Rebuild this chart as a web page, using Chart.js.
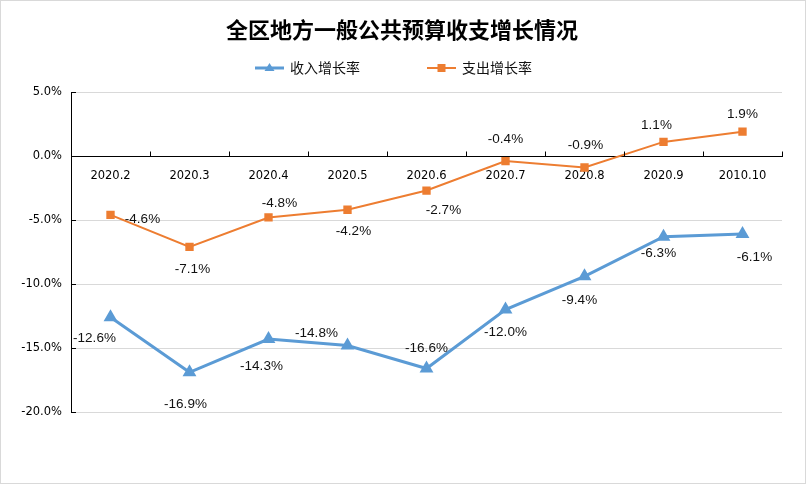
<!DOCTYPE html>
<html>
<head>
<meta charset="utf-8">
<script src="https://cdn.jsdelivr.net/npm/chart.js@4.4.1/dist/chart.umd.min.js"></script>
<style>
  html,body{margin:0;padding:0;background:#fff;}
  #wrap{width:804px;height:482px;border:1px solid #d9d9d9;position:relative;}
  canvas{display:block;}
</style>
</head>
<body>
<div id="wrap"><canvas id="chart" width="804" height="482"></canvas></div>
<script>
/* ---------- data ---------- */
const chartTitle = '全区地方一般公共预算收支增长情况';
const months = ['2020.2','2020.3','2020.4','2020.5','2020.6','2020.7','2020.8','2020.9','2010.10'];
const incomeGrowth  = [-12.6,-16.9,-14.3,-14.8,-16.6,-12.0,-9.4,-6.3,-6.1];
const expenseGrowth = [-4.6,-7.1,-4.8,-4.2,-2.7,-0.4,-0.9,1.1,1.9];
const yTicks = [5,0,-5,-10,-15,-20];

// where each value label sits relative to its point (px)
const incomeLabelPos  = [[-16,21],[-4,32],[-7,27],[-31,-12],[0,-20],[0,23],[-5,24],[-5,17],[12,23]];
const expenseLabelPos = [[32,4],[3,22],[11,-14],[6,22],[17,20],[0,-22],[1,-22],[-7,-17],[0,-17]];

const BLUE = '#5b9bd5', ORANGE = '#ed7d31';
const CJK = '"Noto Sans CJK SC", sans-serif';

/* ---------- plugins ---------- */
// title + legend, drawn by hand so they sit where the original has them
const header = {
  id:'header',
  afterDraw(chart){
    const ctx = chart.ctx;
    ctx.save();
    ctx.fillStyle = '#000';
    ctx.textAlign = 'center'; ctx.textBaseline = 'middle';
    ctx.font = 'bold 22px ' + CJK;
    ctx.fillText(chartTitle, 401, 29);

    const items = [
      {x:254,text:'收入增长率',color:BLUE,lw:3,shape:'triangle'},
      {x:426,text:'支出增长率',color:ORANGE,lw:2,shape:'rect'}
    ];
    const ly = 67;
    ctx.font = '14px ' + CJK;
    ctx.textAlign = 'left';
    items.forEach(it=>{
      ctx.strokeStyle = it.color; ctx.lineWidth = it.lw;
      ctx.beginPath(); ctx.moveTo(it.x, ly); ctx.lineTo(it.x+29, ly); ctx.stroke();
      ctx.fillStyle = it.color;
      const cx = it.x+14.5;
      if(it.shape==='triangle'){
        ctx.beginPath(); ctx.moveTo(cx,ly-5); ctx.lineTo(cx+5,ly+3); ctx.lineTo(cx-5,ly+3); ctx.closePath(); ctx.fill();
      }else{
        ctx.fillRect(cx-4, ly-4, 8, 8);
      }
      ctx.fillStyle = '#111';
      ctx.fillText(it.text, it.x+35, ly);
    });
    ctx.restore();
  }
};

const axisMarks = {
  id:'axisMarks',
  afterDatasetsDraw(chart){
    const {ctx, chartArea, scales:{x,y}} = chart;
    ctx.save();
    ctx.strokeStyle = '#000'; ctx.lineWidth = 1;
    ctx.beginPath();
    // y ticks pointing into the plot
    yTicks.forEach(v=>{
      const py = Math.round(y.getPixelForValue(v))+0.5;
      ctx.moveTo(chartArea.left, py); ctx.lineTo(chartArea.left+5, py);
    });
    // x ticks between categories, pointing up from the zero line
    const y0 = Math.round(y.getPixelForValue(0))+0.5;
    for(let i=1;i<=months.length;i++){
      const px = Math.round(x.getPixelForValue(i-0.5))+0.5;
      ctx.moveTo(px, y0); ctx.lineTo(px, y0-5);
    }
    ctx.stroke();
    ctx.restore();
  }
};

const valueLabels = {
  id:'valueLabels',
  afterDatasetsDraw(chart){
    const {ctx} = chart;
    ctx.save();
    ctx.font = '13.5px "Liberation Sans", Arial, sans-serif';
    ctx.fillStyle = '#111';
    ctx.textAlign = 'center';
    ctx.textBaseline = 'middle';
    chart.data.datasets.forEach((ds,di)=>{
      const meta = chart.getDatasetMeta(di);
      const pos = ds.labelPos;
      meta.data.forEach((pt,i)=>{
        ctx.fillText(ds.data[i].toFixed(1)+'%', pt.x+pos[i][0], pt.y+pos[i][1]);
      });
    });
    ctx.restore();
  }
};

/* ---------- chart ---------- */
const tickFont = {family:'"DejaVu Sans", sans-serif', size:11.5};

new Chart(document.getElementById('chart'),{
  type:'line',
  data:{
    labels: months,
    datasets:[
      {label:'收入增长率',data:incomeGrowth,borderColor:BLUE,backgroundColor:BLUE,borderWidth:3,
       pointStyle:'triangle',pointRadius:5,pointHoverRadius:5,labelPos:incomeLabelPos},
      {label:'支出增长率',data:expenseGrowth,borderColor:ORANGE,backgroundColor:ORANGE,borderWidth:2,
       pointStyle:'rect',pointRadius:4.5,pointHoverRadius:4.5,labelPos:expenseLabelPos}
    ]
  },
  options:{
    responsive:false,animation:false,
    layout:{padding:{left:0,right:23,bottom:71,top:91}},
    plugins:{
      title:{display:false},
      legend:{display:false},
      tooltip:{enabled:false}
    },
    scales:{
      x:{
        position:{y:0},
        offset:true,
        grid:{display:false,drawTicks:false},
        border:{color:'#000',width:1},
        ticks:{color:'#000',font:{...tickFont,weight:'normal'},padding:13,maxRotation:0,autoSkip:false}
      },
      y:{
        min:-20,max:5,
        afterFit(s){ s.width = 70; },
        grid:{color:'#d9d9d9',drawTicks:false},
        border:{color:'#000',width:1},
        ticks:{stepSize:5,color:'#000',font:{...tickFont,weight:'normal'},padding:9,
          callback:v=>v.toFixed(1)+'%'}
      }
    }
  },
  plugins:[axisMarks,valueLabels,header]
});
</script>
</body>
</html>
